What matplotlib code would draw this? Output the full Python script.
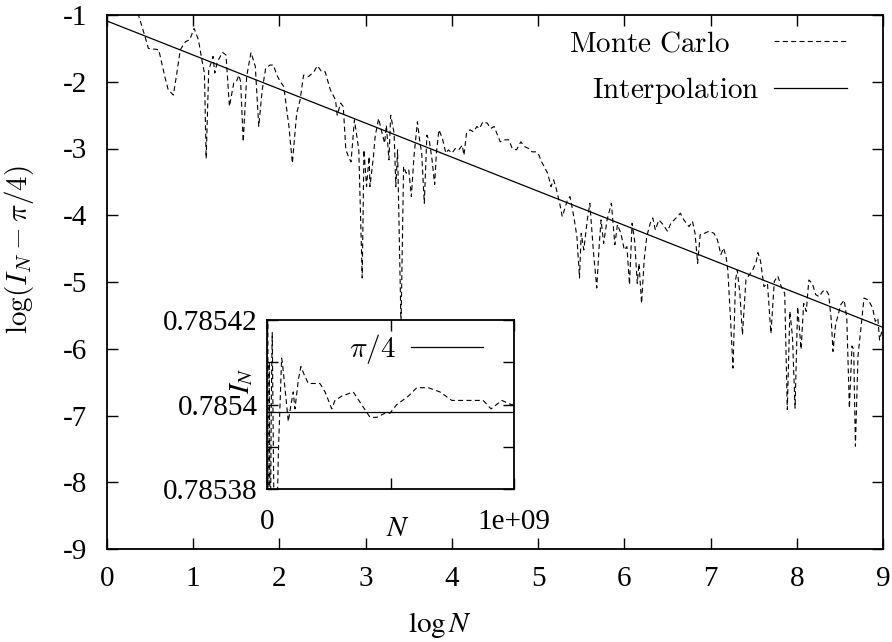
import numpy as np
import matplotlib
matplotlib.use("Agg")
import matplotlib.pyplot as plt

plt.rcParams['font.family'] = ['Liberation Serif', 'DejaVu Serif']
plt.rcParams['mathtext.fontset'] = 'cm'

# ---------------- data ----------------
mc_logN = [0.33, 0.44, 0.48, 0.60, 0.67, 0.71, 0.77, 0.81, 0.85, 0.91, 0.96, 1.01, 1.06, 1.10,
           1.13, 1.15, 1.18, 1.22, 1.23, 1.25, 1.28, 1.34, 1.38, 1.42, 1.47, 1.50, 1.53, 1.55,
           1.58, 1.62, 1.67, 1.72, 1.76, 1.80, 1.84, 1.89, 1.93, 1.97, 2.01, 2.05, 2.11, 2.15,
           2.20, 2.24, 2.28, 2.34, 2.40, 2.44, 2.49, 2.53, 2.59, 2.65, 2.67, 2.71, 2.74, 2.77,
           2.80, 2.83, 2.87, 2.92, 2.96, 2.98, 3.01, 3.04, 3.05, 3.09, 3.11, 3.15, 3.19, 3.22,
           3.24, 3.27, 3.29, 3.33, 3.35, 3.37, 3.41, 3.44, 3.47, 3.50, 3.53, 3.56, 3.60, 3.63,
           3.65, 3.68, 3.71, 3.74, 3.77, 3.80, 3.82, 3.85, 3.89, 3.93, 3.96, 4.00, 4.04, 4.08,
           4.12, 4.14, 4.17, 4.21, 4.25, 4.29, 4.32, 4.36, 4.41, 4.45, 4.49, 4.52, 4.56, 4.60,
           4.66, 4.70, 4.75, 4.80, 4.84, 4.89, 4.93, 4.98, 5.01, 5.04, 5.07, 5.11, 5.15, 5.18,
           5.21, 5.25, 5.28, 5.31, 5.34, 5.37, 5.40, 5.42, 5.45, 5.48, 5.50, 5.53, 5.57, 5.60,
           5.64, 5.68, 5.71, 5.73, 5.76, 5.80, 5.85, 5.89, 5.92, 5.96, 6.00, 6.03, 6.06, 6.09,
           6.12, 6.15, 6.17, 6.20, 6.23, 6.26, 6.30, 6.33, 6.36, 6.40, 6.45, 6.50, 6.54, 6.60,
           6.65, 6.69, 6.75, 6.79, 6.82, 6.85, 6.88, 6.93, 6.98, 7.04, 7.08, 7.12, 7.15, 7.18,
           7.20, 7.23, 7.26, 7.29, 7.31, 7.34, 7.37, 7.41, 7.45, 7.49, 7.53, 7.55, 7.58, 7.62,
           7.66, 7.70, 7.74, 7.78, 7.82, 7.86, 7.89, 7.92, 7.95, 7.98, 8.01, 8.05, 8.08, 8.11,
           8.14, 8.18, 8.22, 8.26, 8.30, 8.34, 8.37, 8.40, 8.42, 8.45, 8.48, 8.51, 8.55, 8.58,
           8.61, 8.64, 8.66, 8.68, 8.71, 8.74, 8.78, 8.83, 8.88, 8.91, 8.94, 8.96, 9.00]
mc_logerr = [-0.85, -1.32, -1.50, -1.52, -1.92, -2.12, -2.20, -1.87, -1.52, -1.40, -1.37, -1.20, -1.37, -1.67,
             -1.87, -3.15, -1.82, -1.67, -1.62, -1.87, -1.70, -1.56, -1.60, -2.37, -2.02, -2.00, -1.90, -2.00,
             -2.90, -1.92, -1.56, -1.77, -2.67, -2.12, -1.80, -1.75, -1.75, -1.90, -2.00, -2.07, -2.67, -3.22,
             -2.47, -2.27, -1.90, -1.92, -1.85, -1.76, -1.85, -1.85, -2.12, -2.27, -2.50, -2.32, -2.37, -3.02,
             -3.12, -3.20, -2.57, -3.02, -4.94, -3.02, -3.57, -3.12, -3.57, -3.12, -2.82, -2.55, -2.77, -2.92,
             -2.65, -3.17, -2.50, -2.77, -3.57, -3.02, -5.65, -3.27, -3.37, -3.32, -3.72, -3.12, -2.60, -2.92,
             -3.07, -3.82, -2.80, -2.90, -3.17, -3.54, -3.07, -2.72, -2.85, -3.07, -3.02, -3.07, -3.00, -3.02,
             -2.95, -3.10, -2.77, -2.72, -2.75, -2.67, -2.70, -2.60, -2.62, -2.70, -2.67, -2.77, -2.90, -2.87,
             -2.87, -3.00, -3.02, -2.90, -2.97, -3.00, -3.05, -3.05, -3.10, -3.20, -3.27, -3.37, -3.57, -3.47,
             -3.60, -3.82, -4.02, -3.90, -3.77, -3.72, -3.92, -4.07, -4.32, -4.94, -4.27, -4.52, -4.07, -3.82,
             -4.52, -5.09, -4.42, -4.07, -4.42, -4.07, -3.82, -4.44, -4.14, -4.27, -4.52, -4.47, -5.04, -4.12,
             -4.39, -5.02, -4.72, -5.32, -4.67, -4.32, -4.12, -4.04, -4.22, -4.07, -4.14, -4.24, -4.12, -4.04,
             -3.97, -4.07, -4.17, -4.09, -4.27, -4.72, -4.29, -4.27, -4.24, -4.27, -4.37, -4.59, -4.49, -4.62,
             -4.82, -5.52, -6.29, -4.97, -4.82, -5.17, -5.79, -4.97, -4.89, -4.82, -4.69, -4.56, -4.69, -5.07,
             -5.02, -5.77, -4.99, -4.91, -5.07, -5.17, -6.91, -5.44, -5.82, -6.89, -5.37, -6.01, -5.32, -5.44,
             -4.97, -5.02, -5.19, -5.22, -5.14, -5.12, -5.19, -5.57, -6.04, -5.64, -5.49, -5.34, -5.27, -5.54,
             -6.89, -5.96, -6.01, -7.46, -6.11, -5.74, -5.24, -5.27, -5.39, -5.59, -5.54, -5.87, -5.67]

interp_logN = [0.0, 9.0]
interp_logerr = [-1.09, -5.68]

inset_N = [0.000e9, 0.004e9, 0.008e9, 0.012e9, 0.016e9, 0.020e9, 0.031e9, 0.045e9, 0.058e9,
           0.061e9, 0.085e9, 0.096e9, 0.105e9, 0.112e9, 0.126e9, 0.136e9, 0.150e9, 0.166e9,
           0.184e9, 0.200e9, 0.213e9, 0.234e9, 0.261e9, 0.274e9, 0.301e9, 0.348e9, 0.382e9,
           0.416e9, 0.443e9, 0.477e9, 0.497e9, 0.524e9, 0.571e9, 0.605e9, 0.652e9, 0.699e9,
           0.747e9, 0.787e9, 0.841e9, 0.874e9, 0.906e9, 0.949e9, 0.989e9, 1.000e9]
inset_IN = [0.78560, 0.78530, 0.785410, 0.78536, 0.785400, 0.785417, 0.78535, 0.785389, 0.785411,
            0.785410, 0.785396, 0.785400, 0.785403, 0.785399, 0.785406, 0.785409, 0.785407, 0.785405,
            0.785405, 0.785405, 0.785405, 0.785403, 0.785399, 0.785401, 0.785402, 0.785403, 0.785400,
            0.785397, 0.785397, 0.785398, 0.785398, 0.785400, 0.785402, 0.785404, 0.785404, 0.785403,
            0.785401, 0.785401, 0.785401, 0.785401, 0.785399, 0.785401, 0.785400, 0.785400]
inset_ref_N = [0.0, 1.0e9]
inset_ref_IN = [np.pi / 4, np.pi / 4]

main_xticks = list(range(0, 10))
main_yticks = [-1, -2, -3, -4, -5, -6, -7, -8, -9]
inset_yticks = [0.78538, 0.78539, 0.78540, 0.78541, 0.78542]
inset_ylabels = ['0.78538', '', '0.7854', '', '0.78542']
inset_xticks = [0.0, 0.5e9, 1.0e9]
inset_xlabels = ['0', '', '1e+09']

# ---------------- figure ----------------
W, H = 892, 642
fig = plt.figure(figsize=(W / 100, H / 100), dpi=100)
FS = 21

ax = fig.add_axes([107 / W, (H - 549) / H, 776 / W, 534 / H])
dash = (4.5, 3.0)
mc_line, = ax.plot(mc_logN, mc_logerr, color='black', lw=0.8, dashes=dash,
                   label=r'$\mathrm{Monte\ Carlo}$')
in_line, = ax.plot(interp_logN, interp_logerr, color='black', lw=0.9,
                   label=r'$\mathrm{Interpolation}$')
ax.set_xlim(0, 9)
ax.set_ylim(-9, -1)
ax.set_xticks(main_xticks, [str(v) for v in main_xticks])
ax.set_yticks(main_yticks, [str(v) for v in main_yticks])
ax.tick_params(direction='in', length=8, width=1.0, top=True, right=True, labelsize=FS)
ax.tick_params(axis='y', pad=14)
ax.tick_params(axis='x', pad=12)
for s in ax.spines.values():
    s.set_linewidth(1.3)
ax.set_ylabel(r'$\log(I_N - \pi/4)$', fontsize=FS)
ax.yaxis.set_label_coords(-0.091, 0.56)
ax.set_xlabel(r'$\log N$', fontsize=FS, math_fontfamily='stix')
ax.xaxis.set_label_coords(0.429, -0.115)

leg1 = ax.legend(handles=[mc_line], loc='upper right', bbox_to_anchor=(0.9536, 0.97),
                 markerfirst=False, frameon=False, handlelength=2.5, handletextpad=1.5,
                 borderpad=0, borderaxespad=0, fontsize=FS)
ax.add_artist(leg1)
ax.legend(handles=[in_line], loc='upper right', bbox_to_anchor=(0.9536, 0.888),
          markerfirst=False, frameon=False, handlelength=2.5, handletextpad=0.5,
          borderpad=0, borderaxespad=0, fontsize=FS)

axi = fig.add_axes([267.3 / W, (H - 489.3) / H, 247 / W, 169.3 / H])
axi.set_facecolor('white')
axi.plot(inset_N, inset_IN, color='black', lw=0.8, dashes=dash)
axi.plot(inset_ref_N, inset_ref_IN, color='black', lw=0.9, label=r'$\pi/4$')
axi.set_xlim(0, 1e9)
axi.set_ylim(0.78538, 0.78542)
axi.set_xticks(inset_xticks, inset_xlabels)
axi.set_yticks(inset_yticks, inset_ylabels)
axi.tick_params(direction='in', length=8, width=1.0, top=True, right=True, labelsize=FS)
axi.tick_params(axis='y', pad=7)
axi.tick_params(axis='x', pad=14)
for s in axi.spines.values():
    s.set_linewidth(1.3)
axi.set_ylabel(r'$I_N$', fontsize=FS, math_fontfamily='stix')
axi.yaxis.set_label_coords(-0.05, 0.64)
axi.set_xlabel(r'$N$', fontsize=FS, math_fontfamily='stix')
axi.xaxis.set_label_coords(0.53, -0.16)
axi.legend(loc='upper right', bbox_to_anchor=(0.875, 0.93), markerfirst=False,
           frameon=False, handlelength=2.5, handletextpad=0.5, borderpad=0,
           borderaxespad=0, fontsize=FS)

fig.savefig('out.png', dpi=100)
